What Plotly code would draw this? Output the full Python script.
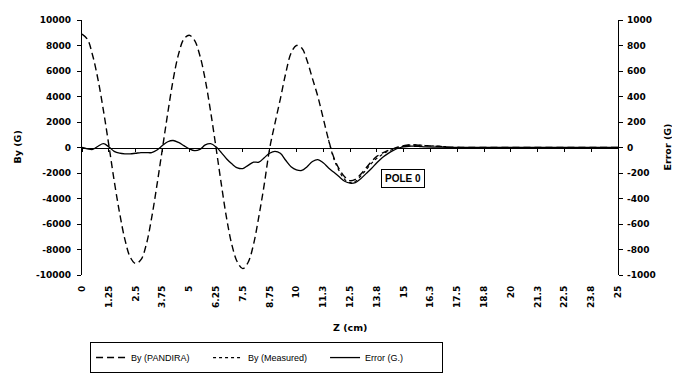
import plotly.graph_objects as go

# Z positions (cm)
z = [0, 0.25, 0.5, 0.75, 1.0, 1.25, 1.5, 1.75, 2.0, 2.25, 2.5, 2.75, 3.0, 3.25, 3.5, 3.75,
     4.0, 4.25, 4.5, 4.75, 5.0, 5.25, 5.5, 5.75, 6.0, 6.25, 6.5, 6.75, 7.0, 7.25, 7.5, 7.75,
     8.0, 8.25, 8.5, 8.75, 9.0, 9.25, 9.5, 9.75, 10.0, 10.25, 10.5, 10.75, 11.0, 11.25, 11.5, 11.75,
     12.0, 12.25, 12.5, 12.75, 13.0, 13.25, 13.5, 13.75, 14.0, 14.25, 14.5, 14.75, 15.0, 15.25, 15.5, 15.75,
     16.0, 16.5, 17.0, 17.5, 18.0, 19, 20, 21, 22, 23, 24, 25]

by_pandira = [8900, 8500, 7200, 5300, 2900, 200, -2600, -5100, -7200, -8600, -9100, -8800, -7600, -5500, -2900, -100,
              2700, 5300, 7300, 8500, 8800, 8400, 7200, 5300, 2800, 0, -2900, -5600, -7700, -9000, -9500, -9000,
              -7600, -5400, -2900, -100, 1900, 3800, 5800, 7400, 8000, 7800, 6800, 5400, 4000, 2300, 600, -800,
              -1700, -2300, -2600, -2500, -2100, -1600, -1100, -700, -450, -250, -100, 50, 150, 200, 200, 180,
              150, 100, 50, 20, 0, 0, 0, 0, 0, 0, 0, 0]

# measured field: only the part that is distinguishable from the PANDIRA curve in the scan
z_measured = [11.5, 11.75, 12.0, 12.25, 12.5, 12.75, 13.0, 13.25, 13.5, 13.75, 14.0, 14.25, 14.5, 14.75,
              15.0, 15.25, 15.5, 15.75, 16.0, 16.5, 17.0]
by_measured = [600, -900, -1850, -2500, -2750, -2650, -2250, -1750, -1250, -850, -550, -300, -150, 0,
               100, 180, 200, 190, 160, 110, 60]

error_g = [0, -10, -15, 10, 30, 5, -30, -45, -50, -50, -45, -40, -40, -40, -20, 15,
           45, 55, 40, 15, -10, -25, -15, 20, 30, 5, -40, -90, -130, -160, -165, -140,
           -115, -115, -80, -45, -30, -45, -100, -150, -175, -180, -150, -110, -95, -120, -160, -195,
           -230, -265, -280, -275, -245, -205, -165, -120, -80, -50, -25, -5, 5, 10, 10, 8,
           5, 3, 2, 0, 0, 0, 0, 0, 0, 0, 0, 0]

x_tickvals = [0, 1.25, 2.5, 3.75, 5, 6.25, 7.5, 8.75, 10, 11.25, 12.5, 13.75, 15, 16.25, 17.5, 18.75,
              20, 21.25, 22.5, 23.75, 25]
x_ticktext = ["0", "1.25", "2.5", "3.75", "5", "6.25", "7.5", "8.75", "10", "11.3", "12.5", "13.8", "15",
              "16.3", "17.5", "18.8", "20", "21.3", "22.5", "23.8", "25"]
y_ticks = [-10000, -8000, -6000, -4000, -2000, 0, 2000, 4000, 6000, 8000, 10000]
y_ticktext = ["-10000", "-8000", "-6000", "-4000", "-2000", "0", "2000", "4000", "6000", "8000", "10000"]
y2_ticks = [-1000, -800, -600, -400, -200, 0, 200, 400, 600, 800, 1000]
y2_ticktext = ["-1000", "-800", "-600", "-400", "-200", "0", "200", "400", "600", "800", "1000"]

FONT = "DejaVu Sans"
tickfont = dict(family=FONT, size=9, color="black", weight="bold")
titlefont = dict(family=FONT, size=9.5, color="black", weight="bold")

fig = go.Figure()
fig.add_trace(go.Scatter(x=z, y=by_pandira, name="By (PANDIRA)", mode="lines",
                         line=dict(color="black", width=1.4, dash="7px,4px", shape="spline")))
fig.add_trace(go.Scatter(x=z_measured, y=by_measured, name="By (Measured)", mode="lines",
                         line=dict(color="black", width=1.2, dash="dot", shape="spline")))
fig.add_trace(go.Scatter(x=z, y=error_g, name="Error (G.)", mode="lines",
                         xaxis="x2", yaxis="y2",
                         line=dict(color="black", width=1.3, shape="spline")))

# page body has an 8px margin, so the figure is offset by 8px inside the 680x373 window
fig.update_layout(
    width=672, height=365,
    margin=dict(l=74, r=62, t=12, b=98, autoexpand=False),
    paper_bgcolor="white", plot_bgcolor="white",
    font=dict(family=FONT, color="black"),
    showlegend=True,
    legend=dict(orientation="h", x=0.015, y=-0.263, xanchor="left", yanchor="top",
                bordercolor="black", borderwidth=1, bgcolor="white",
                font=dict(family="Liberation Sans", size=9, color="black"),
                itemwidth=30, entrywidth=72, entrywidthmode="pixels", tracegroupgap=0),
    xaxis=dict(range=[0, 25], tickvals=x_tickvals, ticktext=x_ticktext, tickangle=-90,
               showline=False, showgrid=False, zeroline=False, ticks="", automargin=False,
               ticklabelstandoff=8, tickfont=tickfont),
    xaxis2=dict(range=[0, 25], overlaying="x", anchor="free", position=0.5, side="bottom",
                tickvals=x_tickvals, showticklabels=False, ticks="outside", ticklen=3,
                tickcolor="black", showline=True, linecolor="black", linewidth=1,
                showgrid=False, zeroline=False, automargin=False),
    yaxis=dict(range=[-10000, 10000], tickvals=y_ticks, ticktext=y_ticktext, ticks="outside", ticklen=4,
               tickcolor="black", showline=True, linecolor="black", linewidth=1.2,
               showgrid=False, zeroline=False, tickfont=tickfont, automargin=False,
               ticklabelstandoff=4),
    yaxis2=dict(range=[-1000, 1000], tickvals=y2_ticks, ticktext=y2_ticktext, overlaying="y",
                side="right", anchor="x", automargin=False,
                ticks="outside", ticklen=4, tickcolor="black", showline=True, linecolor="black",
                linewidth=1.2, showgrid=False, zeroline=False, tickfont=tickfont,
                ticklabelstandoff=2),
    annotations=[
        dict(x=14.97, y=-2450, xref="x", yref="y", text="POLE 0", showarrow=False,
             font=dict(family="Liberation Sans", size=10, color="black", weight="bold"),
             bordercolor="black", borderwidth=1, borderpad=3, bgcolor="white"),
        dict(x=0.5, y=-0.205, xref="paper", yref="paper", text="Z (cm)", showarrow=False,
             font=titlefont, xanchor="center", yanchor="middle"),
        dict(x=0, y=0.5, xref="paper", yref="paper", xshift=-65, text="By (G)",
             showarrow=False, font=titlefont, textangle=-90, xanchor="center", yanchor="middle"),
        dict(x=1, y=0.5, xref="paper", yref="paper", xshift=49, text="Error (G)",
             showarrow=False, font=titlefont, textangle=-90, xanchor="center", yanchor="middle"),
    ],
)

fig.write_html("out.html")
